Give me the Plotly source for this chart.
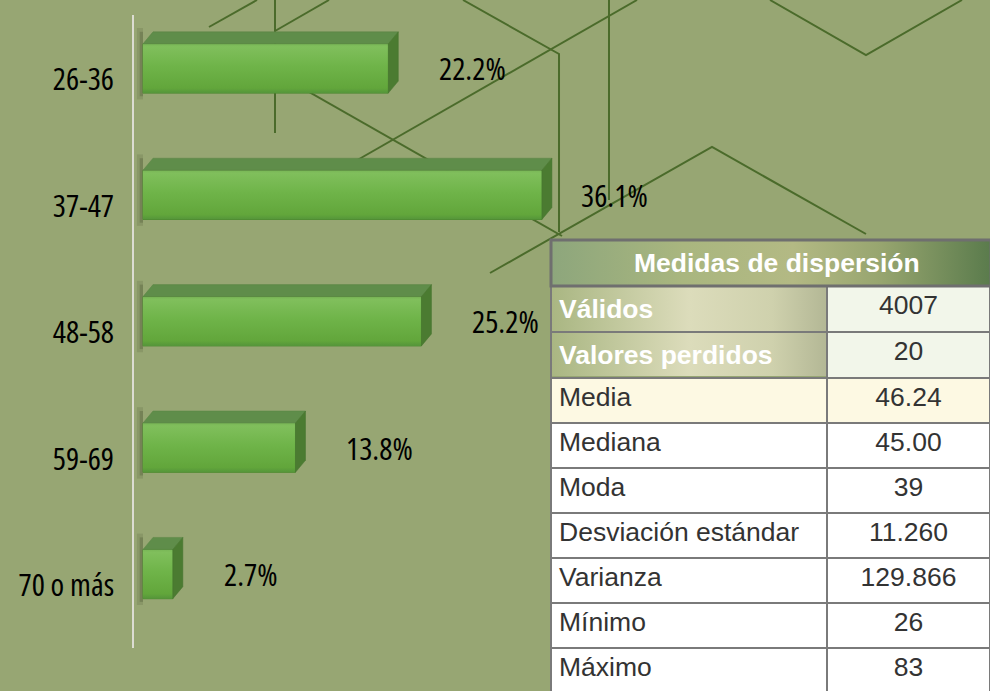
import base64
import plotly.graph_objects as go

# ---------------- data ----------------
categories = ["26-36", "37-47", "48-58", "59-69", "70 o más"]
percentages = [22.2, 36.1, 25.2, 13.8, 2.7]

table_title = "Medidas de dispersión"
table_labels = ["Válidos", "Valores perdidos", "Media", "Mediana", "Moda",
                "Desviación estándar", "Varianza", "Mínimo", "Máximo"]
table_values = ["4007", "20", "46.24", "45.00", "39", "11.260", "129.866", "26", "83"]

# ---------------- geometry / style ----------------
W, H = 990, 691
ML, MR, MT, MB = 134, 0, 15, 0
PW, PH = W - ML - MR, H - MT - MB


def px(x):
    return (x - ML) / PW


def py(y):
    return (H - MB - y) / PH


def narrow(t):
    return f"<span style='font-stretch:condensed'>{t}</span>"


BG = "#97a673"
LINE = "#4b6b2b"
NARROW = "Open Sans"
SANS = "Liberation Sans, Arial, sans-serif"

X_PER_PX = 1 / 11.05          # data units per pixel on x
Y_PER_PX = 1 / 126.4          # data units per pixel on y
BAR_W = 0.39
DX = 10 * X_PER_PX
DY = 12 * Y_PER_PX

idx = list(range(len(categories)))

fig = go.Figure()

fig.add_trace(go.Bar(
    x=percentages, y=idx, orientation="h", width=BAR_W,
    marker=dict(color="#6ab044", line=dict(color="#4e8a30", width=1)),
    hoverinfo="skip", showlegend=False,
))


def svg_uri(body, w=200, h=20):
    svg = (f"<svg xmlns='http://www.w3.org/2000/svg' width='{w}' height='{h}' "
           f"viewBox='0 0 {w} {h}' preserveAspectRatio='none'>{body}</svg>")
    return "data:image/svg+xml;base64," + base64.b64encode(svg.encode()).decode()


def grad_svg(stops, vertical=False):
    st = "".join(f"<stop offset='{o}' stop-color='{c}'/>" for o, c in stops)
    x2, y2 = ("0", "1") if vertical else ("1", "0")
    return svg_uri(f"<defs><linearGradient id='g' x1='0' y1='0' x2='{x2}' y2='{y2}'>{st}"
                   f"</linearGradient></defs><rect width='200' height='20' fill='url(#g)'/>")


shapes = []

# decorative background lines (pixel polylines)
deco = [
    [(209, 27), (257, 0)],
    [(275, 0), (275, 133)],
    [(275, 31), (329, 0)],
    [(463, 0), (559, 54), (559, 232)],
    [(230, 47), (562, 236)],
    [(637, 0), (340, 170)],
    [(609, 0), (609, 200)],
    [(490, 273), (712, 147), (866, 234)],
    [(770, 0), (866, 55), (962, 0)],
]
for pl in deco:
    path = "M " + " L ".join(f"{px(a):.5f},{py(b):.5f}" for a, b in pl)
    shapes.append(dict(type="path", path=path, xref="paper", yref="paper",
                       line=dict(color=LINE, width=2), layer="below"))

front_grad = grad_svg([(0, "#78b656"), (0.06, "#80bf5c"), (0.45, "#6fb449"),
                       (0.9, "#62a63b"), (1, "#55953a")], vertical=True)
images = []

# 3D faces and shadows of bars
for i, v in zip(idx, percentages):
    y0 = i - BAR_W / 2
    y1 = i + BAR_W / 2
    # soft shadow on the left
    shapes.append(dict(type="rect", xref="x", yref="y", x0=-0.55, x1=0,
                       y0=y0 - DY - 0.03, y1=y1 + 0.05,
                       fillcolor="rgba(40,50,20,0.12)", line=dict(width=0), layer="below"))
    shapes.append(dict(type="rect", xref="x", yref="y", x0=-0.3, x1=0,
                       y0=y0 - DY, y1=y1 + 0.025,
                       fillcolor="rgba(40,50,20,0.2)", line=dict(width=0), layer="below"))
    # top face
    shapes.append(dict(type="path", xref="x", yref="y",
                       path=f"M 0,{y0} L {v},{y0} L {v + DX},{y0 - DY} L {DX},{y0 - DY} Z",
                       fillcolor="#5f8d4a", line=dict(color="#5a8545", width=0.5), layer="above"))
    # side face
    shapes.append(dict(type="path", xref="x", yref="y",
                       path=f"M {v},{y0} L {v + DX},{y0 - DY} L {v + DX},{y1 - DY} L {v},{y1} Z",
                       fillcolor="#4b7b31", line=dict(color="#477530", width=0.5), layer="above"))
    # shading of the front face
    images.append(dict(source=front_grad, xref="x", yref="y", x=0, y=y0,
                       sizex=v, sizey=BAR_W, xanchor="left", yanchor="top",
                       sizing="stretch", layer="above"))

# header border of the table
shapes.append(dict(type="rect", xref="paper", yref="paper",
                   x0=px(551), x1=px(991), y0=py(286), y1=py(240),
                   line=dict(color="#6f6f6f", width=3), fillcolor="rgba(0,0,0,0)", layer="above"))

header_grad = grad_svg([(0, "#8da67c"), (0.3, "#a9b67f"), (0.55, "#b3b984"),
                        (0.75, "#97a56f"), (1, "#5a7b4c")])
rows_grad = grad_svg([(0, "#a9b682"), (0.5, "#dcdcbb"), (0.8, "#cfd1ad"), (1, "#b3b795")])

images += [
    dict(source=header_grad, xref="paper", yref="paper", x=px(551), y=py(240),
         sizex=(991 - 551) / PW, sizey=46 / PH, xanchor="left", yanchor="top",
         sizing="stretch", layer="below"),
    dict(source=rows_grad, xref="paper", yref="paper", x=px(551), y=py(286),
         sizex=(827 - 551) / PW, sizey=90 / PH, xanchor="left", yanchor="top",
         sizing="stretch", layer="below"),
]

# table
n = len(table_labels)
col1_fill = ["rgba(0,0,0,0)", "rgba(0,0,0,0)", "#fdf9e3"] + ["#ffffff"] * (n - 3)
col2_fill = ["#f2f6ea", "#f2f6ea", "#fdf9e3"] + ["#ffffff"] * (n - 3)
col1_font = ["#ffffff", "#ffffff"] + ["#333333"] * (n - 2)
col2_font = ["#333333"] * n
labels_fmt = [f"<b>{t}</b>" if k < 2 else t for k, t in enumerate(table_labels)]

fig.add_trace(go.Table(
    domain=dict(x=[px(551), 1], y=[0, py(240)]),
    columnwidth=[276, 163],
    header=dict(values=["", ""], height=46,
                fill=dict(color="rgba(0,0,0,0)"),
                line=dict(color="rgba(0,0,0,0)", width=0)),
    cells=dict(values=[labels_fmt, table_values], height=45,
               align=["left", "center"],
               fill=dict(color=[col1_fill, col2_fill]),
               line=dict(color="#7a7a7a", width=2),
               font=dict(family=SANS, size=26.5, color=[col1_font, col2_font])),
))

annotations = []
vmax = max(percentages)
for i, v in zip(idx, percentages):
    gap = 37 if v == vmax else 49
    annotations.append(dict(x=v, y=i, xref="x", yref="y", text=narrow(f"{v}%"),
                            showarrow=False, xanchor="left", yanchor="middle",
                            xshift=gap, font=dict(family=NARROW, size=31, color="#000000")))
annotations.append(dict(x=px(777), y=py(263), xref="paper", yref="paper",
                        text=f"<b>{table_title}</b>", showarrow=False,
                        xanchor="center", yanchor="middle",
                        font=dict(family=SANS, size=26.5, color="#ffffff")))

fig.update_layout(
    width=W, height=H,
    margin=dict(l=ML, r=MR, t=MT, b=MB, pad=0, autoexpand=False),
    paper_bgcolor=BG, plot_bgcolor="rgba(0,0,0,0)",
    showlegend=False,
    xaxis=dict(range=[-9 * X_PER_PX, -9 * X_PER_PX + PW * X_PER_PX], visible=False,
               fixedrange=True, automargin=False),
    yaxis=dict(domain=[py(648), 1], range=[4.585, -0.423],
               tickmode="array", tickvals=idx, ticktext=[narrow(c) for c in categories],
               showgrid=False, zeroline=False, ticks="", automargin=False,
               showline=True, linecolor="#dcdcd2", linewidth=1.5,
               ticklabelstandoff=12, ticklabelshift=-11,
               tickfont=dict(family=NARROW, size=31, color="#000000"),
               fixedrange=True),
    shapes=shapes, images=images, annotations=annotations,
)

fig.write_html("out.html", config={"displayModeBar": False},
               post_script="document.body.style.margin='0';")
